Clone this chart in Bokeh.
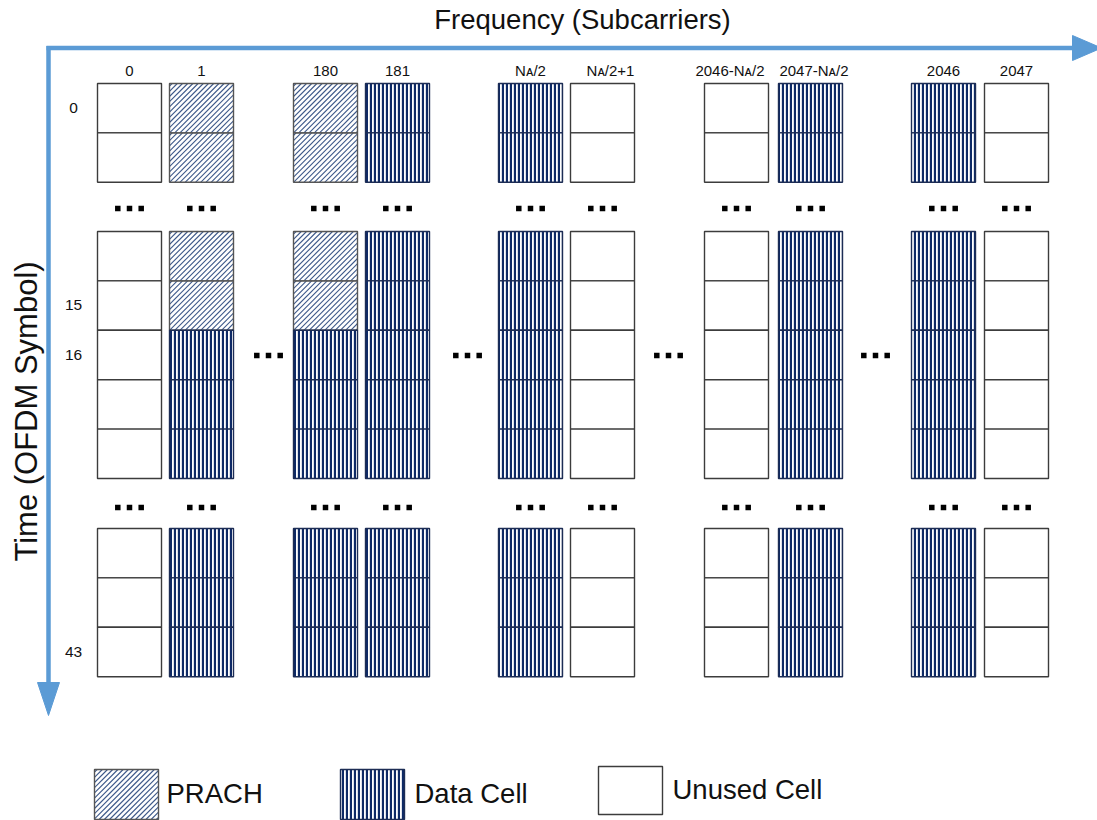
import math
from bokeh.plotting import figure
from bokeh.models import ColumnDataSource
from bokeh.core.properties import value
from bokeh.embed import file_html
from bokeh.resources import INLINE

# ---------------- data ----------------
col_labels = ["0", "1", "180", "181", "N\u1d00/2", "N\u1d00/2+1",
              "2046-N\u1d00/2", "2047-N\u1d00/2", "2046", "2047"]
row_groups = [[0, 1], [14, 15, 16, 17, 18], [41, 42, 43]]
row_tick_labels = ["0", "15", "16", "43"]
row_tick_values = [0, 15, 16, 43]
# cell type per column and row group: P = PRACH, D = data cell, U = unused cell
group1_cells = ["UU", "PP", "PP", "DD", "DD", "UU", "UU", "DD", "DD", "UU"]
group2_cells = ["UUUUU", "PPDDD", "PPDDD", "DDDDD", "DDDDD",
                "UUUUU", "UUUUU", "DDDDD", "DDDDD", "UUUUU"]
group3_cells = ["UUU", "DDD", "DDD", "DDD", "DDD", "UUU", "UUU", "DDD", "DDD", "UUU"]
legend_labels = ["PRACH", "Data Cell", "Unused Cell"]
legend_types = ["P", "D", "U"]
x_title = "Frequency (Subcarriers)"
y_title = "Time (OFDM Symbol)"

# ---------------- layout ----------------
col_left = [97, 169, 293, 365, 498, 570, 704, 778, 911, 984]
label_dx = [0, 0, 0, 0, 0, 8, -6.5, 3.5, 0, 0]
cell_w = 64
group_top = [83, 231, 528]
cell_h = 49.4
hgap_x = [268, 467, 668, 875]
hgap_y = 355
vgap_y = [208, 507]
FONT = value("Liberation Sans")
ARROW = "#5B9BD5"
TXT = "#111111"
DIAG_STEP = 5.2
DIAG_COLOR = "#3d5889"

styles = {
    "P": dict(fill_color="white", line_color="#555555", line_width=1.4),
    "D": dict(fill_color="white", hatch_pattern="vertical_line", hatch_color="#0e2a66",
              hatch_scale=4, hatch_weight=2.3, line_color="#1d2d55", line_width=1.4),
    "U": dict(fill_color="white", line_color="#3c3c3c", line_width=1.4),
}

p = figure(width=1097, height=820, x_range=(0, 1097), y_range=(820, 0),
           min_border=0, toolbar_location=None, output_backend="svg",
           x_axis_location=None, y_axis_location=None)
p.outline_line_color = None
p.grid.visible = False
p.background_fill_color = "white"
p.border_fill_color = "white"

diag = dict(x0=[], y0=[], x1=[], y1=[])


def add_diagonals(l, r, t, b):
    # "/" hatch lines x + y = c clipped to the rectangle (screen y downward)
    c = l + t + DIAG_STEP / 2
    while c < r + b:
        xa = max(l, c - b)
        xb = min(r, c - t)
        if xb > xa:
            diag["x0"].append(xa)
            diag["y0"].append(c - xa)
            diag["x1"].append(xb)
            diag["y1"].append(c - xb)
        c += DIAG_STEP


# ---- cells ----
cells = {"P": dict(left=[], right=[], top=[], bottom=[]),
         "D": dict(left=[], right=[], top=[], bottom=[]),
         "U": dict(left=[], right=[], top=[], bottom=[])}
row_y = {}
for g, (grp, rows) in enumerate(zip([group1_cells, group2_cells, group3_cells], row_groups)):
    for r, row in enumerate(rows):
        row_y[row] = group_top[g] + (r + 0.5) * cell_h
    for c, col in enumerate(grp):
        for r, t in enumerate(col):
            d = cells[t]
            d["left"].append(col_left[c])
            d["right"].append(col_left[c] + cell_w)
            d["top"].append(group_top[g] + r * cell_h)
            d["bottom"].append(group_top[g] + (r + 1) * cell_h)

# ---- legend boxes ----
leg_box_left = [94, 340, 598]
leg_box_top = [769, 769, 766]
leg_box_h = [50, 50, 48]
leg_text_x = [166, 414, 672]
leg_text_y = [793, 793, 789]
for i, t in enumerate(legend_types):
    cells[t]["left"].append(leg_box_left[i])
    cells[t]["right"].append(leg_box_left[i] + cell_w)
    cells[t]["top"].append(leg_box_top[i])
    cells[t]["bottom"].append(leg_box_top[i] + leg_box_h[i])

for l, r, t, b in zip(cells["P"]["left"], cells["P"]["right"], cells["P"]["top"], cells["P"]["bottom"]):
    add_diagonals(l, r, t, b)

p.quad(source=ColumnDataSource(cells["P"]), left="left", right="right", top="top",
       bottom="bottom", fill_color="white", line_color=None)
p.segment(source=ColumnDataSource(diag), x0="x0", y0="y0", x1="x1", y1="y1",
          line_color=DIAG_COLOR, line_width=1.1)
p.quad(source=ColumnDataSource(cells["P"]), left="left", right="right", top="top",
       bottom="bottom", fill_color=None, line_color="#555555", line_width=1.4)
for t in ["D", "U"]:
    p.quad(source=ColumnDataSource(cells[t]), left="left", right="right", top="top",
           bottom="bottom", **styles[t])

# ---- column labels ----
p.text(x=[l + cell_w / 2 + o for l, o in zip(col_left, label_dx)], y=[70] * len(col_labels),
       text=col_labels, text_font=FONT, text_font_size=value("15px"), text_align="center",
       text_baseline="middle", text_color=TXT)

# ---- row labels ----
p.text(x=[73] * len(row_tick_values), y=[row_y[v] - 0.5 for v in row_tick_values],
       text=row_tick_labels, text_font=FONT, text_font_size=value("15.5px"),
       text_align="center", text_baseline="middle", text_color=TXT)

# ---- ellipsis dots ----
dx, dy = [], []
offs = [-11.7, 0, 11.7]
for l in col_left:
    for vy in vgap_y:
        for o in offs:
            dx.append(l + cell_w / 2 + o)
            dy.append(vy)
for hx in hgap_x:
    for o in offs:
        dx.append(hx + o)
        dy.append(hgap_y)
p.rect(x=dx, y=dy, width=5.5, height=5.5, fill_color="black", line_color=None)

# ---- axes arrows ----
p.segment(x0=[46, 48], y0=[47.5, 45.5], x1=[1074, 48], y1=[47.5, 684],
          line_color=ARROW, line_width=4.5, line_cap="butt")
p.patches(xs=[[1072, 1072, 1101], [37, 59, 48]], ys=[[35, 60, 47.5], [682, 682, 715]],
          fill_color=ARROW, line_color=ARROW, line_width=1)

# ---- titles ----
p.text(x=[582], y=[18.5], text=[x_title], text_font=FONT, text_font_size=value("27.5px"),
       text_align="center", text_baseline="middle", text_color=TXT)
p.text(x=[25.5], y=[411], text=[y_title], text_font=FONT, text_font_size=value("31px"),
       text_align="center", text_baseline="middle", text_color=TXT, angle=math.pi / 2)

# ---- legend texts ----
p.text(x=leg_text_x, y=leg_text_y, text=legend_labels, text_font=FONT,
       text_font_size=value("27.5px"), text_align="left", text_baseline="middle",
       text_color=TXT)

open("out.html", "w").write(file_html(p, INLINE))
